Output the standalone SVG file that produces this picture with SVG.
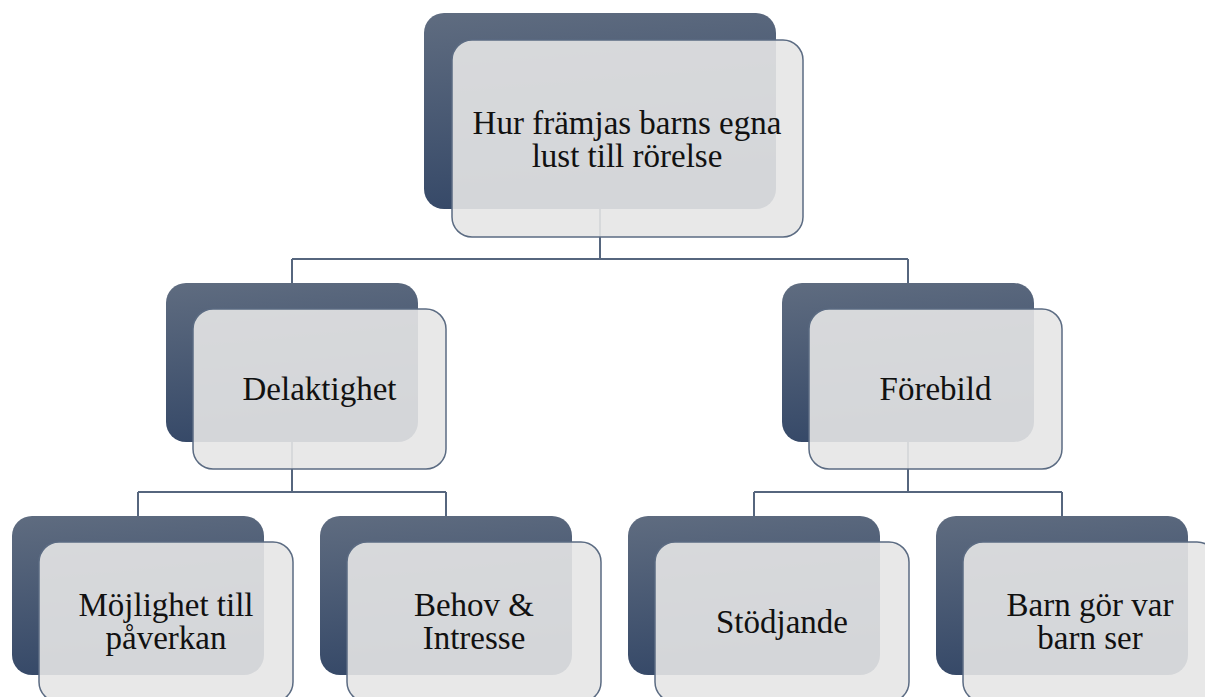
<svg xmlns="http://www.w3.org/2000/svg" width="1205" height="697" viewBox="0 0 1205 697">
<defs>
<linearGradient id="dk" x1="0" y1="0" x2="0.15" y2="1">
<stop offset="0" stop-color="#5f6c80"/>
<stop offset="1" stop-color="#364968"/>
</linearGradient>
<style>
.dk{fill:url(#dk);}
.lt{fill:#e5e5e5;fill-opacity:0.9;stroke:#5b6b82;stroke-width:1.5;}
.cn{fill:none;stroke:#56667e;stroke-width:2;}
.tx{font-family:"Liberation Serif","Times New Roman",serif;font-size:33px;fill:#111;text-anchor:middle;}
</style>
</defs>
<rect width="1205" height="697" fill="#ffffff"/>
<g id="connectors">
<path class="cn" d="M600,209 V259 M292,259 H908 M292,259 V283 M908,259 V283"/>
<path class="cn" d="M292,442 V492 M138,492 H446 M138,492 V516 M446,492 V516"/>
<path class="cn" d="M908,442 V492 M754,492 H1062 M754,492 V516 M1062,492 V516"/>
</g>
<g id="root">
<rect class="dk" x="424" y="13" width="352" height="196" rx="20"/>
<rect class="lt" x="452" y="40" width="351" height="197" rx="20"/>
<text class="tx" x="627" y="134">Hur främjas barns egna</text>
<text class="tx" x="627" y="167">lust till rörelse</text>
</g>
<g id="delaktighet">
<rect class="dk" x="166" y="283" width="252" height="159" rx="20"/>
<rect class="lt" x="193" y="309" width="253" height="160" rx="20"/>
<text class="tx" x="319.5" y="400">Delaktighet</text>
</g>
<g id="forebild">
<rect class="dk" x="782" y="283" width="252" height="159" rx="20"/>
<rect class="lt" x="809" y="309" width="253" height="160" rx="20"/>
<text class="tx" x="935.5" y="400">Förebild</text>
</g>
<g id="mojlighet">
<rect class="dk" x="12" y="516" width="252" height="159" rx="20"/>
<rect class="lt" x="39" y="542" width="254" height="160" rx="20"/>
<text class="tx" x="166" y="616">Möjlighet till</text>
<text class="tx" x="166" y="649">påverkan</text>
</g>
<g id="behov">
<rect class="dk" x="320" y="516" width="252" height="159" rx="20"/>
<rect class="lt" x="347" y="542" width="254" height="160" rx="20"/>
<text class="tx" x="474" y="616">Behov &amp;</text>
<text class="tx" x="474" y="649">Intresse</text>
</g>
<g id="stodjande">
<rect class="dk" x="628" y="516" width="252" height="159" rx="20"/>
<rect class="lt" x="655" y="542" width="254" height="160" rx="20"/>
<text class="tx" x="782" y="633">Stödjande</text>
</g>
<g id="barn">
<rect class="dk" x="936" y="516" width="252" height="159" rx="20"/>
<rect class="lt" x="963" y="542" width="254" height="160" rx="20"/>
<text class="tx" x="1090" y="616">Barn gör var</text>
<text class="tx" x="1090" y="649">barn ser</text>
</g>
</svg>
